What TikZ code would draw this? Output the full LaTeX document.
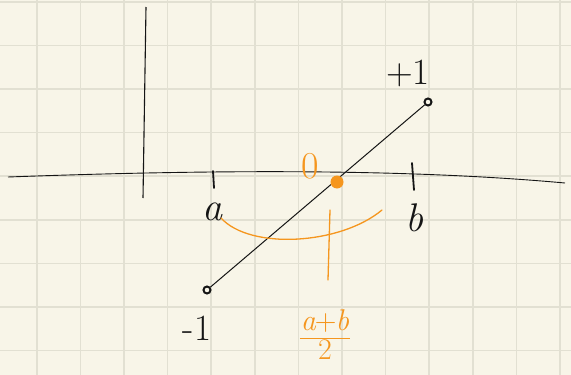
\documentclass[tikz,border=0pt]{standalone}
\definecolor{paper}{HTML}{F8F5E8}
\definecolor{gridc}{HTML}{E2E0D2}
\definecolor{ink}{HTML}{151515}
\definecolor{orng}{HTML}{F5961E}
\begin{document}
\begin{tikzpicture}[x=1pt,y=-1pt,
  gridline/.style={gridc, line width=1.6pt},
  axis/.style={ink, line width=1.1pt},
  tick/.style={ink, line width=1.8pt, line cap=round},
  seg/.style={ink, line width=1pt},
  endpt/.style={circle, draw=ink, fill=paper, line width=2pt, minimum size=7pt, inner sep=0pt},
  lab/.style={text=ink, inner sep=0pt, font=\fontsize{40}{40}\selectfont\itshape},
  nlab/.style={text=ink, inner sep=0pt, font=\fontsize{37}{37}\selectfont},
  olab/.style={text=orng, inner sep=0pt, font=\fontsize{30}{30}\selectfont},
  odot/.style={circle, fill=orng, minimum size=13pt, inner sep=0pt},
  oline/.style={orng, line width=1.3pt, line cap=round}]
\fill[paper] (0,0) rectangle (571,375);
\useasboundingbox (0,0) rectangle (571,375);
\foreach \i in {0,...,12} \draw[gridline] ({36.7+43.6*\i},0) -- ++(0,375);
\foreach \i in {0,...,8} \draw[gridline] (0,{1.7+43.6*\i}) -- ++(571,0);
% axes
\coordinate (yt) at (146,7);
\coordinate (yb) at (143,198);
\draw[axis] (yt) -- (yb);
\coordinate (xl) at (8,177);
\coordinate (xr) at (565,183);
\draw[axis, line width=0.9pt] (xl) .. controls (200,170) and (400,168) .. (xr);
% ticks
\coordinate (ta1) at (213,171); \coordinate (ta2) at (214,188);
\draw[tick] (ta1) -- (ta2);
\coordinate (tb1) at (412,163); \coordinate (tb2) at (414,190);
\draw[tick] (tb1) -- (tb2);
\node[lab] (a) at (212,212) {a};
\node[lab] (b) at (414,218) {b};
% segment
\node[endpt] (m1) at (207,290) {};
\node[endpt] (p1) at (428,102) {};
\draw[seg] (m1) -- (p1);
\node[nlab] (lm1) at (197,328) {-1};
\node[nlab] (lp1) at (408,73) {+1};
% orange
\node[odot] (o) at (337,182) {};
\node[olab, font=\fontsize{38}{38}\selectfont] (zero) at (310,166) {0};
\coordinate (arcA) at (221,218);
\coordinate (arcB) at (382,210);
\draw[oline] (arcA) .. controls (250,250) and (340,245) .. (arcB);
\coordinate (v1) at (330,210);
\coordinate (v2) at (328,280);
\draw[oline] (v1) -- (v2);
\node[olab, font=\fontsize{30}{30}\selectfont, align=center] (frac) at (325,338)
  {\setlength{\tabcolsep}{1pt}\setlength{\arrayrulewidth}{1.6pt}\renewcommand{\arraystretch}{0.85}%
   \begin{tabular}{c}\itshape a\upshape\kern-1pt+\kern-1pt\itshape b\\\hline 2\end{tabular}};
\end{tikzpicture}
\end{document}
